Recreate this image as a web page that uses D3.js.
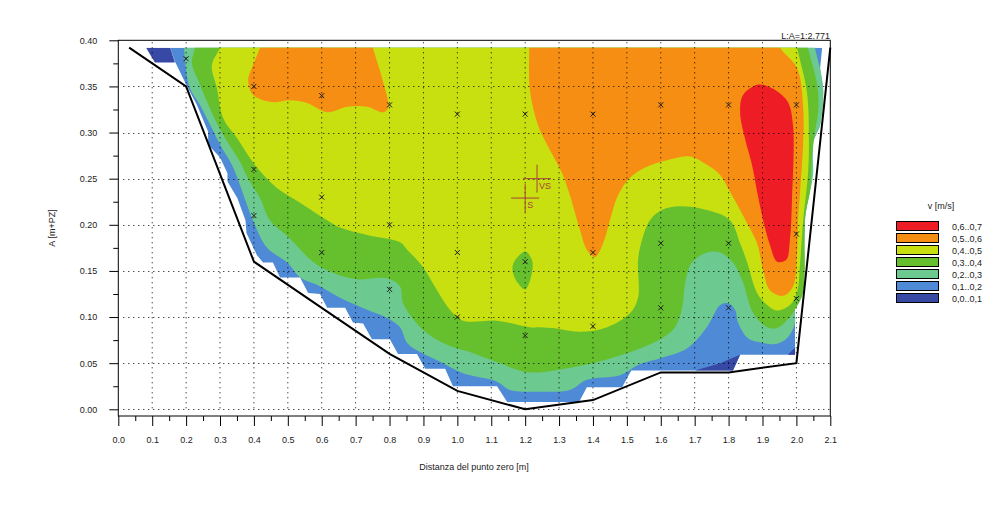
<!DOCTYPE html>
<html><head><meta charset="utf-8">
<script src="https://cdnjs.cloudflare.com/ajax/libs/d3/7.8.5/d3.min.js"></script>
<style>html,body{margin:0;background:#fff}svg{display:block}text{font-family:"Liberation Sans",Arial,sans-serif;font-size:9px;fill:#222}</style>
</head><body><svg id="c" width="1007" height="508"></svg>
<script>
const xTicks=[0,.1,.2,.3,.4,.5,.6,.7,.8,.9,1,1.1,1.2,1.3,1.4,1.5,1.6,1.7,1.8,1.9,2,2.1];
const xMinor=[.05,.15,.25,.35,.45,.55,.65,.75,.85,.95,1.05,1.15,1.25,1.35,1.45,1.55,1.65,1.75,1.85,1.95,2.05];
const yTicks=[0,.05,.1,.15,.2,.25,.3,.35,.4];
const yMinor=[.025,.075,.125,.175,.225,.275,.325,.375];
const legendLabels=["0,6..0,7","0,5..0,6","0,4..0,5","0,3..0,4","0,2..0,3","0,1..0,2","0,0..0,1"];
const legendColors=["#ee1c25","#f68e14","#c8e010","#66c02e","#6cc98f","#4f8ad6","#3748a5"];

const bed=[[.032,.392],[.2,.35],[.4,.16],[.6,.11],[.8,.06],[1,.02],[1.2,0],[1.4,.01],[1.6,.04],[1.8,.04],[2,.05],[2.1,.392]];
const samples=[[.2,.38],[.4,.35],[.6,.34],[.8,.33],[1,.32],[1.2,.32],[1.4,.32],[1.6,.33],[1.8,.33],[2,.33],[.4,.26],[.4,.21],[.6,.23],[.6,.17],[.8,.2],[.8,.13],[1,.17],[1,.1],[1.2,.16],[1.2,.08],[1.4,.17],[1.4,.09],[1.6,.18],[1.6,.11],[1.8,.18],[1.8,.11],[2,.19],[2,.12]];
const crossVS=[1.235,.25], crossS=[1.2,.229];

const band01=[[.153,.392],[.167,.377],[.203,.35],[.232,.33],[.265,.301],[.265,.287],[.3,.273],[.322,.256],[.322,.247],[.351,.229],[.375,.205],[.378,.191],[.409,.167],[.427,.159],[.456,.159],[.477,.143],[.536,.143],[.56,.126],[.595,.125],[.616,.11],[.669,.11],[.692,.094],[.722,.093],[.748,.076],[.801,.076],[.825,.06],[.881,.06],[.905,.044],[.964,.044],[.987,.025],[1.117,.025],[1.147,.008],[1.359,.008],[1.382,.024],[1.486,.024],[1.513,.042],[1.813,.042],[1.834,.059],[1.996,.059],[1.996,.11],[2.017,.127],[2.026,.209],[2.046,.254],[2.049,.29],[2.07,.308],[2.079,.344],[2.07,.37],[2.076,.392]];
const band00a=[[.082,.392],[.153,.392],[.167,.376],[.108,.376]];
const band00b=[[1.701,.042],[1.775,.05],[1.834,.059],[1.813,.042]];
const band00c=[[1.975,.059],[1.996,.067],[1.996,.059]];
const band02=[[.19,.415],[.194,.392],[.197,.377],[.211,.348],[.241,.33],[.27,.309],[.306,.283],[.335,.265],[.359,.243],[.397,.205],[.439,.175],[.498,.159],[.536,.143],[.586,.135],[.654,.121],[.734,.108],[.793,.099],[.831,.089],[.852,.072],[.89,.062],[.958,.05],[1.017,.039],[1.117,.03],[1.155,.021],[1.244,.019],[1.332,.021],[1.382,.032],[1.48,.037],[1.539,.049],[1.604,.056],[1.677,.066],[1.736,.089],[1.775,.113],[1.798,.115],[1.819,.108],[1.828,.094],[1.857,.077],[1.902,.072],[1.943,.071],[1.975,.078],[1.996,.094],[1.996,.11],[2.017,.127],[2.026,.209],[2.049,.254],[2.049,.29],[2.07,.308],[2.079,.349],[2.055,.392],[2.045,.415]];
const band03=[[.232,.415],[.226,.392],[.217,.376],[.241,.352],[.279,.319],[.315,.294],[.359,.268],[.383,.25],[.418,.229],[.447,.205],[.501,.187],[.574,.16],[.633,.148],[.704,.141],[.793,.142],[.831,.133],[.84,.115],[.899,.086],[.969,.07],[1.037,.062],[1.117,.051],[1.214,.04],[1.332,.045],[1.43,.053],[1.539,.066],[1.604,.077],[1.642,.089],[1.663,.11],[1.672,.137],[1.692,.159],[1.736,.17],[1.775,.17],[1.813,.159],[1.843,.137],[1.873,.104],[1.914,.089],[1.943,.088],[1.981,.1],[1.999,.11],[2.02,.127],[2.026,.209],[2.04,.236],[2.046,.273],[2.055,.301],[2.064,.322],[2.064,.344],[2.055,.363],[2.034,.392],[2.025,.415]];
const band04=[[.32,.415],[.3,.392],[.276,.373],[.291,.348],[.309,.316],[.35,.294],[.409,.262],[.468,.24],[.536,.224],[.616,.205],[.654,.197],[.734,.189],[.831,.181],[.852,.173],[.899,.154],[.94,.129],[.978,.108],[1.017,.096],[1.117,.096],[1.214,.089],[1.282,.088],[1.362,.084],[1.442,.089],[1.509,.104],[1.533,.121],[1.533,.162],[1.545,.184],[1.568,.205],[1.603,.216],[1.656,.22],[1.736,.216],[1.804,.205],[1.834,.18],[1.855,.159],[1.884,.126],[1.914,.113],[1.943,.107],[1.981,.113],[2.002,.127],[2.011,.159],[2.02,.205],[2.034,.254],[2.037,.29],[2.031,.344],[2.002,.392],[1.99,.415]];
const band03island=[[1.2,.171],[1.22,.162],[1.22,.148],[1.2,.13],[1.17,.142],[1.164,.157]];
const band05a=[[.44,.415],[.418,.392],[.394,.37],[.383,.357],[.397,.341],[.453,.333],[.506,.335],[.557,.332],[.616,.322],[.675,.328],[.734,.328],[.781,.322],[.796,.327],[.781,.355],[.751,.392],[.735,.415]];
const band05b=[[1.212,.415],[1.212,.392],[1.214,.346],[1.238,.308],[1.273,.281],[1.309,.256],[1.332,.232],[1.362,.194],[1.382,.173],[1.406,.165],[1.43,.18],[1.45,.205],[1.474,.232],[1.509,.251],[1.559,.263],[1.618,.27],[1.686,.274],[1.736,.265],[1.775,.254],[1.804,.236],[1.857,.2],[1.884,.18],[1.902,.151],[1.922,.129],[1.961,.123],[1.99,.133],[2.002,.17],[2.005,.205],[2.011,.236],[2.02,.29],[2.02,.327],[2.002,.37],[1.952,.392],[1.93,.415]];
const band06=[[1.887,.352],[1.843,.341],[1.834,.322],[1.848,.294],[1.869,.265],[1.884,.236],[1.902,.205],[1.922,.178],[1.943,.16],[1.97,.162],[1.981,.184],[1.987,.227],[1.99,.308],[1.975,.333],[1.946,.344],[1.916,.35]];

const svg=d3.select("#c");
const x=d3.scaleLinear().domain([0,2.1]).range([118.3,830.3]);
const y=d3.scaleLinear().domain([0,.4]).range([409.3,40.3]);
const bottomV=y.invert(416), topFill=.392;
const col=d3.scaleOrdinal().domain(legendLabels).range(legendColors);

svg.append("defs").append("clipPath").attr("id","fillClip").append("rect")
  .attr("x",x(0)).attr("y",y(topFill)).attr("width",x(2.1)-x(0)).attr("height",y(bottomV)-y(topFill));
const fills=svg.append("g").attr("clip-path","url(#fillClip)");
const straight=d3.line().x(d=>x(d[0])).y(d=>y(d[1])).curve(d3.curveLinearClosed);
const smooth=d3.line().x(d=>x(d[0])).y(d=>y(d[1])).curve(d3.curveCatmullRomClosed.alpha(.5));
[[band01,5,straight],[band00a,6,straight],[band00b,6,straight],[band00c,6,straight],[band02,4,smooth],[band03,3,smooth],[band04,2,smooth],[band03island,3,smooth],[band05a,1,smooth],[band05b,1,smooth],[band06,0,smooth]]
 .forEach(([d,c,l])=>fills.append("path").attr("d",l(d)).attr("fill",col(legendLabels[c])));

const grid=svg.append("g").attr("stroke","#000").attr("stroke-dasharray","1 4").attr("fill","none");
grid.selectAll(".v").data(xTicks.slice(1,-1)).join("line").attr("x1",d=>x(d)).attr("x2",d=>x(d)).attr("y1",y(.4)+2).attr("y2",y(0));
grid.selectAll(".h").data(yTicks.slice(0,-1)).join("line").attr("x1",x(0)+5).attr("x2",x(2.1)).attr("y1",d=>Math.round(y(d))+.5).attr("y2",d=>Math.round(y(d))+.5);

svg.append("path").attr("d",d3.line().x(d=>x(d[0])).y(d=>y(d[1]))(bed)).attr("fill","none").attr("stroke","#000").attr("stroke-width",2);

svg.append("g").selectAll("path").data(samples).join("path")
  .attr("d",d=>`M${x(d[0])-2.5},${y(d[1])-2.5}l5,5M${x(d[0])-2.5},${y(d[1])+2.5}l5,-5`)
  .attr("stroke","#1a1a1a").attr("fill","none");

const crossColor="#a5433f";
[[crossVS,"VS"],[crossS,"S"]].forEach(([p,t])=>{
  const cx=x(p[0]),cy=y(p[1]);
  svg.append("path").attr("d",`M${cx-14},${cy}h28M${cx},${cy-14}v28`).attr("stroke",crossColor).attr("fill","none");
  svg.append("text").text(t).attr("x",cx+2).attr("y",cy+10).style("fill",crossColor);
});

svg.append("rect").attr("x",x(0)).attr("y",y(.4)).attr("width",x(2.1)-x(0)).attr("height",y(bottomV)-y(.4)).attr("fill","none").attr("stroke","#000");

const ax=svg.append("g").attr("transform",`translate(0,${y(bottomV)})`).call(d3.axisBottom(x).tickValues(xTicks).tickFormat(d3.format(".1f")).tickSize(10).tickPadding(11));
ax.select(".domain").remove();
const axm=svg.append("g").attr("transform",`translate(0,${y(bottomV)})`).call(d3.axisBottom(x).tickValues(xMinor).tickFormat("").tickSize(5));
axm.select(".domain").remove();
const ay=svg.append("g").attr("transform",`translate(${x(0)},0)`).call(d3.axisLeft(y).tickValues(yTicks).tickFormat(d3.format(".2f")).tickSize(9).tickPadding(12));
ay.select(".domain").remove();
const aym=svg.append("g").attr("transform",`translate(${x(0)},0)`).call(d3.axisLeft(y).tickValues(yMinor).tickFormat("").tickSize(5));
aym.select(".domain").remove();
svg.selectAll(".tick text").style("font-family",'"Liberation Sans",Arial,sans-serif').style("font-size","9px").style("fill","#222");

svg.append("text").text("Distanza del punto zero [m]").attr("x",474).attr("y",470).attr("text-anchor","middle");
svg.append("text").text("A [m+PZ]").attr("transform","translate(55,228) rotate(-90)").attr("text-anchor","middle");
svg.append("text").text("L:A=1:2.771").attr("x",830).attr("y",39).attr("text-anchor","end");

const ly=d3.scaleBand().domain(legendLabels).range([221,305]);
svg.append("text").text("v [m/s]").attr("x",941).attr("y",209).attr("text-anchor","middle");
const lg=svg.append("g").selectAll("g").data(legendLabels).join("g").attr("transform",d=>`translate(0,${ly(d)})`);
lg.append("rect").attr("x",896.5).attr("y",.5).attr("width",42).attr("height",9).attr("fill",d=>col(d)).attr("stroke","#000");
lg.append("text").text(d=>d).attr("x",952).attr("y",9);
</script></body></html>
